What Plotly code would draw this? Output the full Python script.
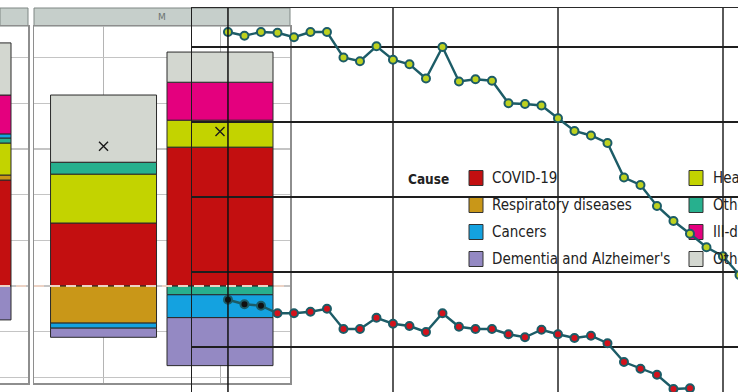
import plotly.graph_objects as go

W, H = 738, 392

# ---------------- data: excess deaths by cause (stacked bars) ----------------
periods = ["2020", "2021"]          # male facet "M"
female_periods = ["2021"]           # only the right bar of the left facet is visible

cause_names = ["COVID-19", "Respiratory diseases", "Heart disease", "Other circulatory",
               "Cancers", "Dementia and Alzheimer's", "Ill-defined", "Other"]
cause_colors = ["#c30f10", "#c99718", "#c3d300", "#27b08e",
                "#14a2e0", "#9489c3", "#e4007e", "#d3d7d0"]

female_covid = [23.2]
female_resp = [1.1]
female_heart = [7.0]
female_othcirc = [1.1]
female_cancer = [0.9]
female_dementia = [-7.4]
female_ill = [8.5]
female_other = [11.4]

male_covid = [13.8, 30.4]
male_resp = [-8.1, 0.0]
male_heart = [10.7, 5.9]
male_othcirc = [2.6, -1.9]
male_cancer = [-1.1, -5.0]
male_dementia = [-2.0, -10.5]
male_ill = [0.0, 8.3]
male_other = [14.7, 6.6]

female_values = [female_covid, female_resp, female_heart, female_othcirc,
                 female_cancer, female_dementia, female_ill, female_other]
male_values = [male_covid, male_resp, male_heart, male_othcirc,
               male_cancer, male_dementia, male_ill, male_other]

legend_col1 = ["COVID-19", "Respiratory diseases", "Cancers", "Dementia and Alzheimer's"]
legend_col2 = ["Heart disease", "Other circulatory", "Ill-defined", "Other"]

# ---------------- data: overlaid line series ----------------
years = [1990, 1991, 1992, 1993, 1994, 1995, 1996, 1997, 1998, 1999, 2000,
         2001, 2002, 2003, 2004, 2005, 2006, 2007, 2008, 2009, 2010,
         2011, 2012, 2013, 2014, 2015, 2016, 2017, 2018, 2019, 2020, 2021]
upper_series = [42.0, 41.5, 42.0, 41.9, 41.3, 42.0, 42.0, 38.6, 38.1, 40.1, 38.3,
                37.7, 35.8, 40.0, 35.4, 35.7, 35.5, 32.5, 32.4, 32.2, 30.5,
                28.8, 28.2, 27.2, 22.6, 21.6, 18.8, 16.8, 15.1, 13.3, 12.1, 9.6]
lower_series = [6.3, 5.7, 5.5, 4.5, 4.5, 4.7, 5.1, 2.4, 2.4, 3.9, 3.1,
                2.8, 2.0, 4.5, 2.7, 2.4, 2.4, 1.7, 1.3, 2.3, 1.7,
                1.2, 1.5, 0.5, -2.0, -2.9, -3.7, -5.6, -5.5]

# ---------------- helpers (layout positions in pixels -> paper) ----------------
def px(x):
    return x / W

def py(y):
    return 1 - y / H

LINE_TEAL = "#1c5c67"
BAR_EDGE = "#2a2a2a"
GRID_LIGHT = "#c4c4c4"
FRAME = "#8e8e8e"
FONT = "DejaVu Sans Condensed, Liberation Sans Narrow, Arial Narrow, sans-serif"

fig = go.Figure()

for name, color, fv, mv in zip(cause_names, cause_colors, female_values, male_values):
    fig.add_bar(x=female_periods, y=fv, xaxis="x", yaxis="y", width=0.91, name=name,
                marker=dict(color=color, line=dict(color=BAR_EDGE, width=1)),
                showlegend=False)
    fig.add_bar(x=periods, y=mv, xaxis="x2", yaxis="y2", width=0.91, name=name,
                marker=dict(color=color, line=dict(color=BAR_EDGE, width=1)),
                showlegend=False)

net_male = [round(sum(v[i] for v in male_values), 1) for i in range(len(periods))]
fig.add_scatter(x=periods, y=net_male, xaxis="x2", yaxis="y2", mode="markers",
                marker=dict(symbol="x-thin-open", size=9, color="#1a1a1a",
                            line=dict(width=1.4, color="#1a1a1a")),
                showlegend=False, name="Net")

fig.add_scatter(x=years, y=upper_series, xaxis="x3", yaxis="y3", mode="lines+markers",
                line=dict(color=LINE_TEAL, width=2.4),
                marker=dict(size=8, color="#bdd11f", line=dict(color=LINE_TEAL, width=2)),
                showlegend=False, name="upper")
lower_colors = ["#111111"] * 3 + ["#d3121c"] * (len(lower_series) - 3)
fig.add_scatter(x=years[:len(lower_series)], y=lower_series, xaxis="x3", yaxis="y3",
                mode="lines+markers",
                line=dict(color=LINE_TEAL, width=2.4),
                marker=dict(size=8, color=lower_colors, line=dict(color=LINE_TEAL, width=2)),
                showlegend=False, name="lower")

panel_ydom = [py(383), py(26)]
bar_y = dict(domain=panel_ydom, range=[-21.2, 56.9], tick0=0, dtick=10,
             showticklabels=False, ticks="", zeroline=False,
             showgrid=True, gridcolor=GRID_LIGHT, gridwidth=1.3,
             showline=True, mirror=True, linecolor=FRAME, linewidth=1.5, fixedrange=True)
bar_x = dict(type="category", categoryorder="array", categoryarray=periods,
             showticklabels=False, ticks="", showgrid=True, gridcolor="#b4b4b4", gridwidth=1,
             showline=True, mirror=True, linecolor=FRAME, linewidth=1.5, fixedrange=True)

fig.update_layout(
    width=W, height=H,
    margin=dict(l=0, r=0, t=0, b=0),
    paper_bgcolor="white", plot_bgcolor="rgba(0,0,0,0)",
    barmode="relative", bargap=0, showlegend=False,
    font=dict(family=FONT, color="#222"),
    xaxis=dict(bar_x, domain=[0, px(28)], range=[1.3605, 1.601], anchor="y"),
    yaxis=dict(bar_y, anchor="x"),
    xaxis2=dict(bar_x, domain=[px(34), px(290)], range=[-0.597, 1.601], anchor="y2"),
    yaxis2=dict(bar_y, anchor="x2"),
    xaxis3=dict(domain=[px(192), 1], range=[1987.82, 2020.91], anchor="y3", side="top",
                showline=True, linecolor="#2a2a2a", linewidth=1.5,
                tickvals=[2000, 2010, 2020], showgrid=True, gridcolor="#5a5a5a", gridwidth=2,
                showticklabels=False, ticks="", zeroline=False, fixedrange=True),
    yaxis3=dict(domain=[0, py(8)], range=[-6.0, 45.2], anchor="x3",
                tickvals=[0, 10, 20, 30, 40], showgrid=True, gridcolor="#1e1e1e", gridwidth=1.4,
                showline=True, linecolor="#1e1e1e", linewidth=1.5,
                showticklabels=False, ticks="", zeroline=False, fixedrange=True),
)

shapes = []
# facet strips
for x0, x1 in [(0, 28), (34, 290)]:
    shapes.append(dict(type="rect", xref="paper", yref="paper", x0=px(x0), x1=px(x1),
                       y0=py(26), y1=py(8), fillcolor="#c6cfcb",
                       line=dict(color="#7f8784", width=1), layer="below"))
# dashed zero lines in the bar panels
for xr, yr in [("x domain", "y"), ("x2 domain", "y2")]:
    shapes.append(dict(type="line", xref=xr, yref=yr, x0=0, x1=1, y0=0, y1=0,
                       line=dict(color="#ecd2c4", width=2, dash="10px,6px"), layer="above"))
# 1990 reference line of the overlaid chart
shapes.append(dict(type="line", xref="x3", yref="paper", x0=1990, x1=1990, y0=0, y1=py(8),
                   line=dict(color="#111111", width=1.5), layer="above"))

annotations = [dict(text="M", xref="paper", yref="paper", x=px(162), y=py(17),
                    showarrow=False, font=dict(size=9, color="#6c7471", family="DejaVu Sans"),
                    xanchor="center", yanchor="middle")]

color_of = dict(zip(cause_names, cause_colors))
annotations.append(dict(text="<b>Cause</b>", xref="paper", yref="paper", x=px(451), y=py(179),
                        showarrow=False, xanchor="right", yanchor="middle",
                        font=dict(size=13.5, family=FONT, color="#222")))
row_y = [178, 205, 232, 259]
for col_names, sx, tx in [(legend_col1, 469, 490), (legend_col2, 689, 711)]:
    for nm, ry in zip(col_names, row_y):
        shapes.append(dict(type="rect", xref="paper", yref="paper",
                           x0=px(sx), x1=px(sx + 14), y0=py(ry + 7.5), y1=py(ry - 7.5),
                           fillcolor=color_of[nm], line=dict(color="#333", width=1),
                           layer="below"))
        annotations.append(dict(text=nm, xref="paper", yref="paper", x=px(tx), y=py(ry),
                                showarrow=False, xanchor="left", yanchor="middle",
                                font=dict(size=15, family=FONT, color="#222")))

fig.update_layout(shapes=shapes, annotations=annotations)

fig.write_html(
    "out.html",
    config={"displayModeBar": False, "staticPlot": True},
    post_script="document.body.style.margin='0';document.body.style.overflow='hidden';",
)
